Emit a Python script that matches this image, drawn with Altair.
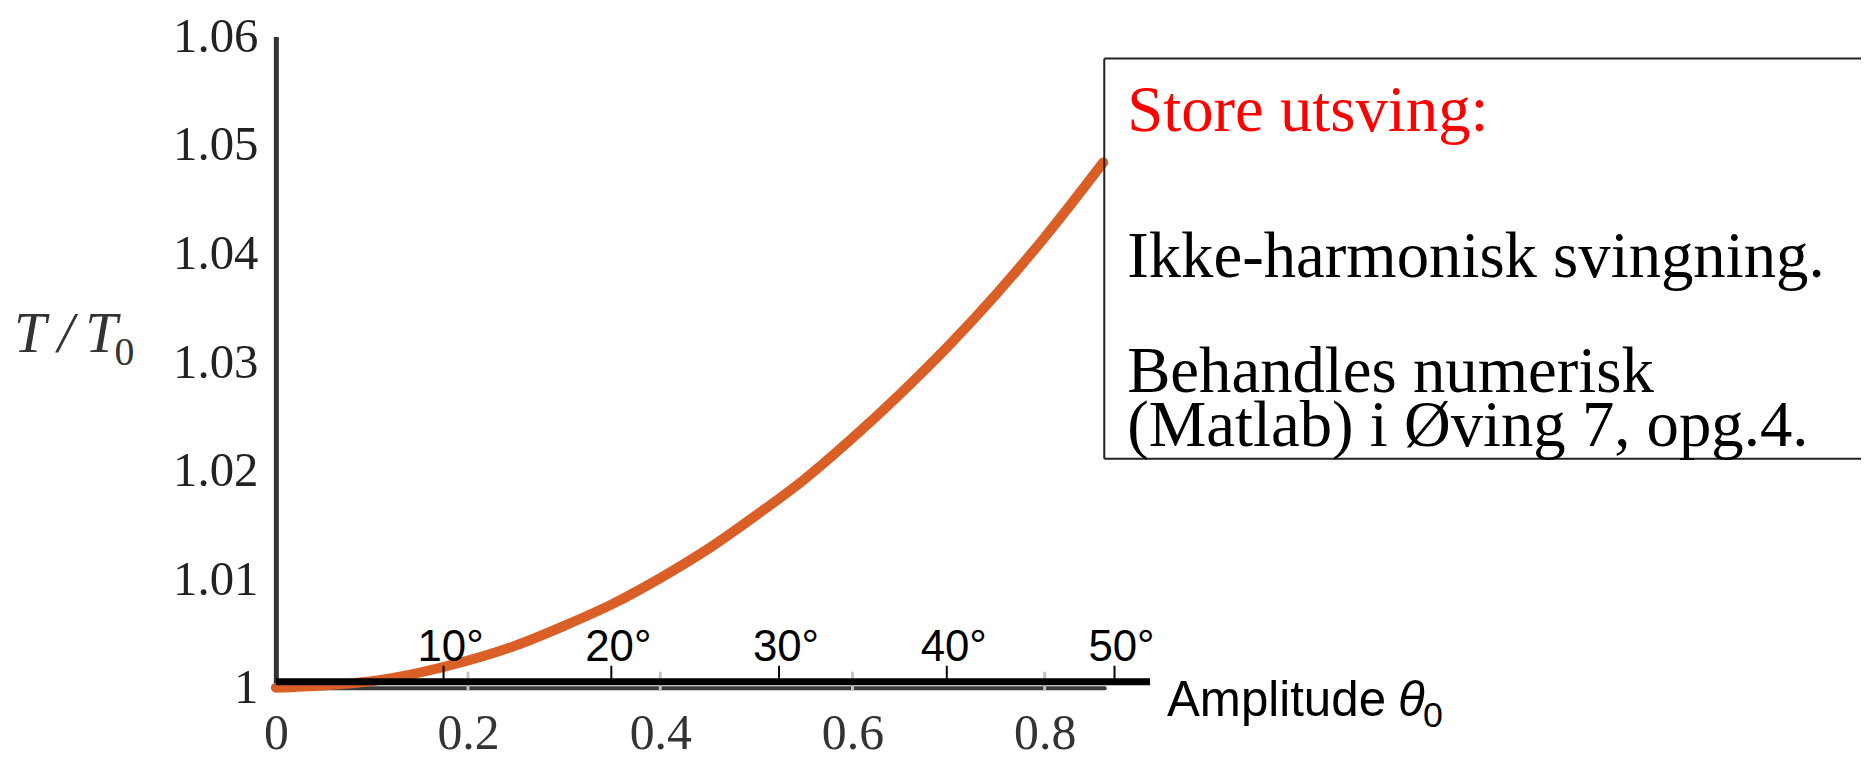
import altair as alt
import pandas as pd
import math

# ---- data ----
amp_rad = [0, 0.05, 0.1, 0.15, 0.2, 0.25, 0.3, 0.35, 0.4, 0.45, 0.5, 0.55,
           0.6, 0.65, 0.7, 0.75, 0.8, 0.861]
period_ratio = [1.0000, 1.0002, 1.0006, 1.0014, 1.0025, 1.0039, 1.0057, 1.0077,
                1.0101, 1.0128, 1.0159, 1.0192, 1.0230, 1.0271, 1.0315, 1.0363,
                1.0415, 1.0484]
x_ticks = [0, 0.2, 0.4, 0.6, 0.8]
y_ticks = [1.0, 1.01, 1.02, 1.03, 1.04, 1.05, 1.06]
deg_ticks = [10, 20, 30, 40, 50]
deg_labels = ["10°", "20°", "30°", "40°", "50°"]
box_lines = ["Store utsving:", "Ikke-harmonisk svingning.", "Behandles numerisk",
             "(Matlab) i Øving 7, opg.4."]
box_colors = ["#ff0000", "#000000", "#000000", "#000000"]

W, H = 832, 654
PL, PT = 269, 27
XMAX = 0.862

curve = pd.DataFrame({"x": amp_rad, "y": period_ratio})
deg = pd.DataFrame({"rad": [d * math.pi / 180 for d in deg_ticks], "label": deg_labels})
xt = pd.DataFrame({"x": x_ticks[1:]})

xs = alt.Scale(domain=[0, XMAX], nice=False, zero=False)
ys = alt.Scale(domain=[1.0, 1.06], nice=False, zero=False)

base = alt.Chart(curve)

line = base.mark_line(color="#DA5F26", strokeWidth=10, strokeCap="round",
                      interpolate="monotone").encode(
    x=alt.X("x:Q", scale=xs,
            axis=alt.Axis(values=x_ticks, title=None, grid=False, ticks=False, tickSize=0,
                          domainColor="#3a3a3a", domainWidth=4, domainCap="round",
                          labelFont="Liberation Serif", labelFontSize=50,
                          labelColor="#333333", labelPadding=61,
                          labelBaseline="alphabetic", labelFlush=False,
                          format="~g")),
    y=alt.Y("y:Q", scale=ys,
            axis=alt.Axis(values=y_ticks, title=None, grid=False, ticks=False, tickSize=0,
                          domainColor="#333333", domainWidth=5,
                          labelFont="Liberation Serif", labelFontSize=49,
                          labelColor="#222222", labelPadding=18,
                          labelFlush=False, format="~g")),
)

gray_ticks = alt.Chart(xt).mark_rule(color="#c4c4c4", strokeWidth=3).encode(
    x=alt.X("x:Q", scale=xs), y=alt.value(H - 16), y2=alt.value(H + 3))

deg_line = alt.Chart(pd.DataFrame({"a": [0]})).mark_rule(color="#000000", strokeWidth=7).encode(
    x=alt.value(0), x2=alt.value(878), y=alt.value(H - 6))

deg_tick = alt.Chart(deg).mark_rule(color="#000000", strokeWidth=2).encode(
    x=alt.X("rad:Q", scale=xs), y=alt.value(H - 22), y2=alt.value(H - 8))

deg_text = alt.Chart(deg).mark_text(font="Liberation Sans", fontSize=44, color="#000000",
                                    align="center", baseline="alphabetic", dx=7).encode(
    x=alt.X("rad:Q", scale=xs), y=alt.value(H - 27), text="label:N")

amp1 = alt.Chart(pd.DataFrame({"t": ["Amplitude"]})).mark_text(
    font="Liberation Sans", fontSize=49.5, align="left",
    baseline="alphabetic", color="#000000").encode(
    x=alt.value(895), y=alt.value(H + 28), text="t:N")
amp2 = alt.Chart(pd.DataFrame({"t": ["θ"]})).mark_text(
    font="Liberation Sans", fontSize=49.5, fontStyle="italic", align="left",
    baseline="alphabetic", color="#000000").encode(
    x=alt.value(1127), y=alt.value(H + 28), text="t:N")
amp3 = alt.Chart(pd.DataFrame({"t": ["0"]})).mark_text(
    font="Liberation Sans", fontSize=36, align="left",
    baseline="alphabetic", color="#000000").encode(
    x=alt.value(1152), y=alt.value(H + 39), text="t:N")

yt1 = alt.Chart(pd.DataFrame({"t": ["T\u2009/\u2009T"]})).mark_text(
    font="Liberation Serif", fontSize=58, fontStyle="italic", align="left",
    baseline="alphabetic", color="#333333").encode(
    x=alt.value(-263), y=alt.value(317), text="t:N")
yt2 = alt.Chart(pd.DataFrame({"t": ["0"]})).mark_text(
    font="Liberation Serif", fontSize=40, align="left",
    baseline="alphabetic", color="#333333").encode(
    x=alt.value(-162), y=alt.value(330), text="t:N")

# text box (open to the right, as in the reference)
BX, BT, BB, BR = 832, 22, 424, 1600
box_top = alt.Chart(pd.DataFrame({"a": [0]})).mark_rule(color="#222222", strokeWidth=2).encode(
    x=alt.value(BX), x2=alt.value(BR), y=alt.value(BT))
box_bot = alt.Chart(pd.DataFrame({"a": [0]})).mark_rule(color="#222222", strokeWidth=2).encode(
    x=alt.value(BX), x2=alt.value(BR), y=alt.value(BB))
box_left = alt.Chart(pd.DataFrame({"a": [0]})).mark_rule(color="#222222", strokeWidth=2).encode(
    x=alt.value(BX), y=alt.value(BT), y2=alt.value(BB))

box_df = pd.DataFrame({"t": box_lines, "c": box_colors, "yy": [95, 242, 357, 411]})
box_text = alt.Chart(box_df).mark_text(font="Liberation Serif", fontSize=65, align="left",
                                       baseline="alphabetic").encode(
    x=alt.value(855), y=alt.Y("yy:Q", scale=None), text="t:N",
    color=alt.Color("c:N", scale=None))

chart = alt.layer(
    gray_ticks, line, deg_line, deg_tick, deg_text, amp1, amp2, amp3, yt1, yt2,
    box_top, box_bot, box_left, box_text
).properties(
    width=W, height=H,
    autosize=alt.AutoSizeParams(type="none"),
    padding={"left": PL, "top": PT, "right": 1861 - PL - W, "bottom": 72},
    background="white",
).configure_view(stroke=None)

chart.save("out.html", embed_options={"renderer": "svg", "actions": False})
